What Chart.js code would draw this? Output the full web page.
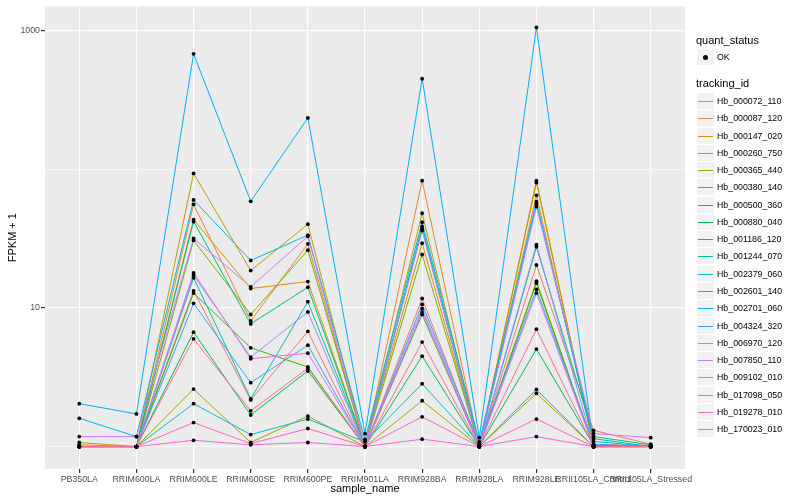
<!DOCTYPE html>
<html>
<head>
<meta charset="utf-8">
<script src="https://cdn.jsdelivr.net/npm/chart.js@4.4.1/dist/chart.umd.min.js"></script>
<style>
  body { margin: 0; background: #fff; font-family: "Liberation Sans", Arial, sans-serif; }
  #wrap { position: relative; width: 800px; height: 500px; }
  .ttl { position: absolute; left: 696px; font-size: 11px; line-height: 13px; color: #000; }
  .row { position: absolute; left: 697px; height: 16px; }
  .key { position: absolute; left: 0; top: 0; width: 17px; height: 16px; background: #F2F2F2; }
  .key i { position: absolute; left: 1px; width: 15px; top: 8px; height: 1px; }
  .key b { position: absolute; left: 6px; top: 6px; width: 5px; height: 5px; border-radius: 50%; background: #000; }
  .lab { position: absolute; left: 20px; top: 0; line-height: 16px; font-size: 8.8px; color: #000; white-space: nowrap; }
</style>
</head>
<body>
<div id="wrap">
  <canvas id="chart" width="800" height="500"></canvas>
  <div id="legend"></div>
</div>
<script>
const categories = ["PB350LA", "RRIM600LA", "RRIM600LE", "RRIM600SE", "RRIM600PE", "RRIM901LA",
  "RRIM928BA", "RRIM928LA", "RRIM928LE", "RRII105LA_Control", "RRII105LA_Stressed"];

const seriesIds = ["Hb_000072_110", "Hb_000087_120", "Hb_000147_020", "Hb_000260_750", "Hb_000365_440",
  "Hb_000380_140", "Hb_000500_360", "Hb_000880_040", "Hb_001186_120", "Hb_001244_070",
  "Hb_002379_060", "Hb_002601_140", "Hb_002701_060", "Hb_004324_320", "Hb_006970_120",
  "Hb_007850_110", "Hb_009102_010", "Hb_017098_050", "Hb_019278_010", "Hb_170023_010"];

// ggplot hue palette, 20 levels
const seriesColors = ["#F8766D", "#EA8331", "#D89000", "#C09B00", "#A3A500", "#7CAE00", "#39B600",
  "#00BB4E", "#00BF7D", "#00C1A3", "#00BFC4", "#00BAE0", "#00B0F6", "#35A2FF", "#9590FF",
  "#C77CFF", "#E76BF3", "#FA62DB", "#FF62BC", "#FF6C91"];

// FPKM + 1, one value per sample (same order as categories)
const hb_000072_110 = [1.0, 1.0, 13.3, 2.17, 6.77, 1.0, 11.7, 1.0, 20.4, 1.31, 1.04];
const hb_000087_120 = [1.0, 1.0, 55.9, 8.06, 29.0, 1.0, 82.8, 1.0, 64.9, 1.03, 1.02];
const hb_000147_020 = [1.03, 1.0, 43.4, 13.8, 15.5, 1.0, 29.3, 1.0, 82.8, 1.0, 1.0];
const hb_000260_750 = [1.07, 1.0, 93.4, 18.6, 40.2, 1.0, 48.2, 1.0, 80.1, 1.0, 1.0];
const hb_000365_440 = [1.0, 1.0, 2.60, 1.07, 1.66, 1.0, 2.14, 1.0, 2.42, 1.0, 1.0];
const hb_000380_140 = [1.0, 1.0, 30.7, 8.97, 26.1, 1.0, 24.3, 1.0, 15.6, 1.0, 1.0];
const hb_000500_360 = [1.0, 1.0, 12.8, 5.16, 3.75, 1.0, 8.97, 1.0, 15.1, 1.0, 1.0];
const hb_000880_040 = [1.0, 1.0, 6.69, 1.69, 3.51, 1.0, 4.49, 1.0, 5.05, 1.02, 1.0];
const hb_001186_120 = [1.0, 1.0, 42.0, 7.67, 14.1, 1.0, 37.2, 1.0, 27.6, 1.18, 1.03];
const hb_001244_070 = [1.0, 1.0, 16.5, 2.21, 11.1, 1.0, 38.7, 1.0, 56.3, 1.14, 1.0];
const hb_002379_060 = [1.0, 1.0, 2.04, 1.22, 1.58, 1.08, 2.84, 1.0, 2.58, 1.0, 1.0];
const hb_002601_140 = [1.60, 1.18, 60.1, 22.0, 33.5, 1.12, 41.5, 1.08, 58.5, 1.09, 1.0];
const hb_002701_060 = [2.04, 1.72, 681, 58.8, 235, 1.24, 450, 1.16, 1054, 1.02, 1.0];
const hb_004324_320 = [1.0, 1.0, 10.8, 2.89, 5.39, 1.0, 10.6, 1.04, 13.6, 1.04, 1.0];
const hb_006970_120 = [1.0, 1.0, 17.2, 4.42, 9.36, 1.0, 9.9, 1.0, 28.6, 1.0, 1.0];
const hb_007850_110 = [1.18, 1.18, 31.7, 14.2, 32.8, 1.0, 36.2, 1.0, 53.8, 1.24, 1.16];
const hb_009102_010 = [1.0, 1.0, 17.9, 4.30, 4.72, 1.0, 9.36, 1.0, 12.8, 1.0, 1.0];
const hb_017098_050 = [1.0, 1.0, 1.11, 1.03, 1.07, 1.0, 1.13, 1.0, 1.18, 1.0, 1.0];
const hb_019278_010 = [1.0, 1.0, 1.49, 1.05, 1.35, 1.0, 1.64, 1.0, 1.58, 1.0, 1.0];
const hb_170023_010 = [1.0, 1.0, 5.99, 1.81, 3.67, 1.0, 5.67, 1.0, 7.03, 1.0, 1.0];

const seriesValues = [hb_000072_110, hb_000087_120, hb_000147_020, hb_000260_750, hb_000365_440,
  hb_000380_140, hb_000500_360, hb_000880_040, hb_001186_120, hb_001244_070,
  hb_002379_060, hb_002601_140, hb_002701_060, hb_004324_320, hb_006970_120,
  hb_007850_110, hb_009102_010, hb_017098_050, hb_019278_010, hb_170023_010];

const yGrid = [1, 10, 100, 1000];
const yLabelled = [10, 1000];

// ---- legend (html so the text stays text) ----
const legend = document.getElementById("legend");
let html = '<div class="ttl" style="top:34px">quant_status</div>';
html += '<div class="row" style="top:49px"><div class="key"><b></b></div><span class="lab">OK</span></div>';
html += '<div class="ttl" style="top:77px">tracking_id</div>';
seriesIds.forEach((id, i) => {
  const top = Math.round(93 + i * 17.27);
  html += '<div class="row" style="top:' + top + 'px"><div class="key"><i style="background:' +
    seriesColors[i] + '"></i></div><span class="lab">' + id + '</span></div>';
});
legend.innerHTML = html;

// grey panel behind the grid
const panelBg = {
  id: "panelBg",
  beforeDraw(chart) {
    const { ctx, chartArea: a } = chart;
    ctx.save();
    ctx.fillStyle = "#EBEBEB";
    ctx.fillRect(a.left, a.top, a.right - a.left, a.bottom - a.top);
    ctx.restore();
  }
};

const lineSets = seriesValues.map((vals, s) => ({
  label: seriesIds[s],
  data: vals.map((v, i) => ({ x: i, y: v })),
  borderColor: seriesColors[s],
  borderWidth: 1,
  pointRadius: 0,
  fill: false,
  tension: 0,
  order: seriesIds.length - s
}));

const pointSet = {
  label: "OK",
  data: seriesValues.flatMap(vals => vals.map((v, i) => ({ x: i, y: v }))),
  showLine: false,
  pointRadius: 1.9,
  pointBackgroundColor: "#000",
  pointBorderWidth: 0,
  order: 0
};

new Chart(document.getElementById("chart"), {
  type: "line",
  data: { datasets: [...lineSets, pointSet] },
  plugins: [panelBg],
  options: {
    responsive: false,
    devicePixelRatio: 1,
    animation: false,
    layout: { padding: { top: 5, right: 115, left: 0, bottom: 0 } },
    plugins: { legend: { display: false }, tooltip: { enabled: false } },
    scales: {
      x: {
        type: "linear",
        min: -0.6,
        max: 10.6,
        afterBuildTicks: (s) => { s.ticks = categories.map((c, i) => ({ value: i })); },
        afterFit: (s) => { s.height = 31; },
        ticks: {
          callback: (v) => categories[v],
          autoSkip: false,
          maxRotation: 0,
          minRotation: 0,
          padding: 1,
          color: "#4D4D4D",
          font: { family: "Liberation Sans", size: 8.8 }
        },
        grid: { color: "#FFFFFF", lineWidth: 1.2, tickColor: "#333333", tickLength: 4 },
        border: { display: false },
        title: {
          display: true,
          text: "sample_name",
          color: "#000",
          font: { family: "Liberation Sans", size: 11 },
          padding: { top: 0, bottom: 4 }
        }
      },
      y: {
        type: "logarithmic",
        min: 0.689,
        max: 1500,
        afterBuildTicks: (s) => { s.ticks = yGrid.map(v => ({ value: v })); },
        afterFit: (s) => { s.width = 45; },
        ticks: {
          callback: (v) => yLabelled.includes(v) ? String(v) : "",
          padding: 1,
          color: "#4D4D4D",
          font: { family: "Liberation Sans", size: 8.8 }
        },
        grid: {
          color: "#FFFFFF",
          lineWidth: (ctx) => yLabelled.includes(ctx.tick && ctx.tick.value) ? 1.2 : 0.6,
          tickColor: (ctx) => yLabelled.includes(ctx.tick && ctx.tick.value) ? "#333333" : "rgba(0,0,0,0)",
          tickLength: 4
        },
        border: { display: false },
        title: {
          display: true,
          text: "FPKM + 1",
          color: "#000",
          font: { family: "Liberation Sans", size: 11 },
          padding: { top: 6, bottom: 0 }
        }
      }
    }
  }
});
</script>
</body>
</html>
